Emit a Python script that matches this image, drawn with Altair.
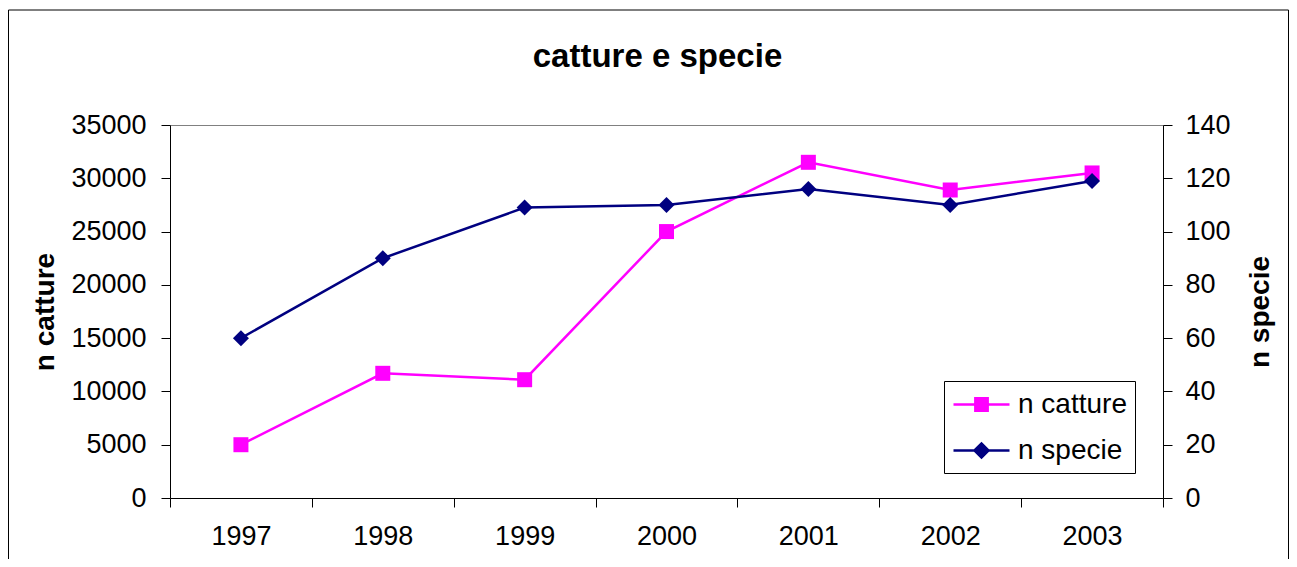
import altair as alt
import pandas as pd

# ---- data ----
anni = ["1997", "1998", "1999", "2000", "2001", "2002", "2003"]
n_catture = [5000, 11700, 11100, 25000, 31500, 28900, 30500]
n_specie = [60, 90, 109, 110, 116, 110, 119]
serie = ["n catture", "n specie"]
colori = ["#FF00FF", "#000080"]
catture_ticks = [0, 5000, 10000, 15000, 20000, 25000, 30000, 35000]
specie_ticks = [0, 20, 40, 60, 80, 100, 120, 140]

df_c = pd.DataFrame({"anno": anni, "catture": n_catture})
df_s = pd.DataFrame({"anno": anni, "specie": n_specie})
df_leg = pd.DataFrame({"serie": serie})

FONT = "Liberation Sans"
W, H = 993, 373

# legend symbols: line with marker (custom paths, scaled by sqrt(size)/2)
leg_square = "M-1,0H3M0.56,-0.44H1.44V0.44H0.56Z"
leg_diamond = "M-1,0H3M0.5,0L1,-0.5L1.5,0L1,0.5Z"

x_enc = alt.X(
    "anno:O",
    sort=anni,
    scale=alt.Scale(type="band", paddingInner=0, paddingOuter=0),
    axis=alt.Axis(
        title=None, labelAngle=0, tickBand="extent", domainColor="black",
        tickColor="black", tickSize=9, labelPadding=16, labelFont=FONT,
        labelFontSize=27, labelColor="black", grid=False,
    ),
)

y_left = alt.Y(
    "catture:Q",
    scale=alt.Scale(domain=[0, 35000], nice=False),
    axis=alt.Axis(
        values=catture_ticks, format="d", title="n catture",
        titleFont=FONT, titleFontSize=28, titleFontWeight="bold",
        titleColor="black", titleAngle=270, titleX=-117, titleY=H / 2,
        titleAlign="center", titleBaseline="alphabetic",
        labelFont=FONT, labelFontSize=27, labelColor="black",
        labelPadding=15, tickSize=9, tickColor="black", domainColor="black",
        grid=True, gridColor="#808080", gridWidth=1,
        gridOpacity={"condition": {"test": "datum.value == 35000", "value": 1}, "value": 0},
    ),
)

y_right = alt.Y(
    "specie:Q",
    scale=alt.Scale(domain=[0, 140], nice=False),
    axis=alt.Axis(
        orient="right", values=specie_ticks, format="d", title="n specie",
        titleFont=FONT, titleFontSize=28, titleFontWeight="bold",
        titleColor="black", titleAngle=270, titleX=105, titleY=H / 2,
        titleAlign="center", titleBaseline="alphabetic",
        labelFont=FONT, labelFontSize=27, labelColor="black",
        labelPadding=13, tickSize=9, tickColor="black", domainColor="black",
        grid=False,
    ),
)

base_c = alt.Chart(df_c).encode(x=x_enc, y=y_left)
catt = alt.layer(
    base_c.mark_line(color=colori[0], strokeWidth=2.5),
    base_c.mark_point(shape="square", filled=True, size=225, color=colori[0], opacity=1),
)

base_s = alt.Chart(df_s).encode(x=x_enc, y=y_right)
spec = alt.layer(
    base_s.mark_line(color=colori[1], strokeWidth=2.5),
    base_s.mark_point(shape="diamond", filled=True, size=256, color=colori[1], opacity=1),
)

leg_kwargs = dict(
    title=None, orient="none", legendX=774, legendY=256,
    strokeColor="black", fillColor="white", padding=8,
    labelFont=FONT, labelFontSize=28, labelColor="black",
    labelOffset=35, rowPadding=16, symbolSize=784, symbolStrokeWidth=2.5,
)
legend_layer = alt.Chart(df_leg).transform_filter("false").mark_point(
    filled=True, size=784, strokeWidth=2.5, opacity=1
).encode(
    color=alt.Color("serie:N", scale=alt.Scale(domain=serie, range=colori),
                    legend=alt.Legend(**leg_kwargs)),
    stroke=alt.Stroke("serie:N", scale=alt.Scale(domain=serie, range=colori),
                      legend=alt.Legend(**leg_kwargs)),
    shape=alt.Shape("serie:N", scale=alt.Scale(domain=serie, range=[leg_square, leg_diamond]),
                    legend=alt.Legend(**leg_kwargs)),
)

frame = alt.Chart(pd.DataFrame({"k": [0]})).mark_rect(
    fill="white", fillOpacity=0, stroke="black", strokeWidth=1
).encode(
    x=alt.value(-161.5), x2=alt.value(1118.5), y=alt.value(-115), y2=alt.value(600)
)

chart = alt.layer(frame, catt, spec, legend_layer).resolve_scale(
    y="independent"
).properties(
    width=W,
    height=H,
    autosize=alt.AutoSizeParams(type="none"),
    padding={"left": 162, "top": 117, "right": 126, "bottom": 61},
    title=alt.TitleParams(
        "catture e specie", font=FONT, fontSize=33, fontWeight="bold",
        color="black", anchor="middle", frame="group", offset=0,
        baseline="alphabetic", dy=90, dx=-9,
    ),
    background="white",
).configure_view(stroke=None)

chart.save("out.html", embed_options={"renderer": "svg", "actions": False})
